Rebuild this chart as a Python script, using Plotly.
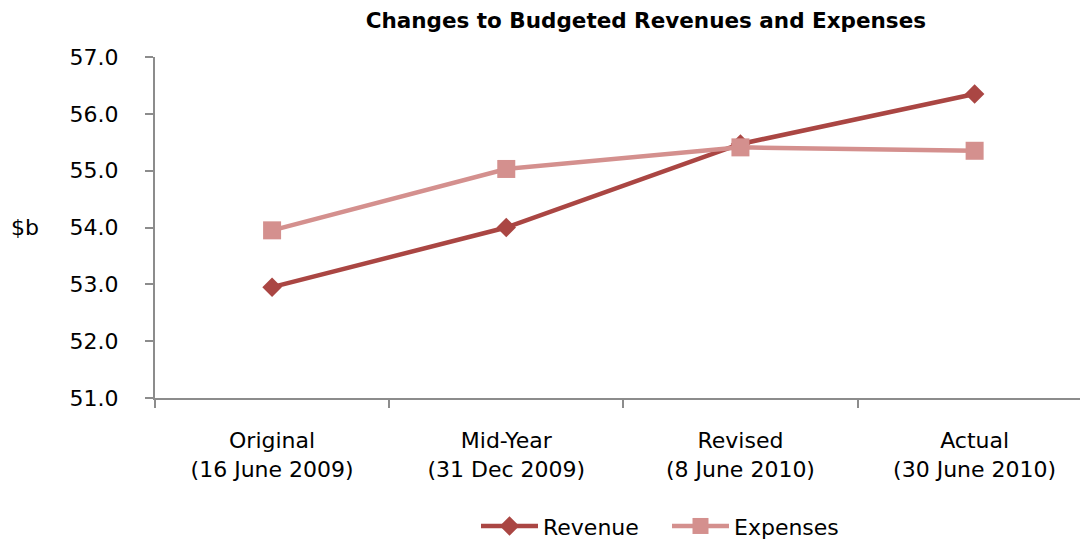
import plotly.graph_objects as go

categories = ["Original<br>(16 June 2009)", "Mid-Year<br>(31 Dec 2009)",
              "Revised<br>(8 June 2010)", "Actual<br>(30 June 2010)"]
revenue = [52.95, 54.0, 55.47, 56.35]
expenses = [53.95, 55.03, 55.41, 55.35]
y_ticks = [51, 52, 53, 54, 55, 56, 57]

FONT = "DejaVu Sans, sans-serif"
REV_COLOR = "#AA4643"
EXP_COLOR = "#D4908E"
AXIS_COLOR = "#8C8C8C"

fig = go.Figure()
fig.add_trace(go.Scatter(
    x=categories, y=revenue, name="Revenue", mode="lines+markers",
    line=dict(color=REV_COLOR, width=4.5),
    marker=dict(symbol="diamond", size=15, color=REV_COLOR),
))
fig.add_trace(go.Scatter(
    x=categories, y=expenses, name="Expenses", mode="lines+markers",
    line=dict(color=EXP_COLOR, width=4.5),
    marker=dict(symbol="square", size=18, color=EXP_COLOR),
))

fig.update_layout(
    width=1080, height=543,
    margin=dict(l=155, r=0, t=57, b=145, autoexpand=False),
    paper_bgcolor="white", plot_bgcolor="white",
    font=dict(family=FONT, size=22, color="#000000"),
    title=dict(text="<b>Changes to Budgeted Revenues and Expenses</b>",
               x=0.598, xanchor="center", xref="container",
               y=0.963, yanchor="middle", yref="container",
               font=dict(family=FONT, size=21.5, color="#000000")),
    showlegend=True,
    legend=dict(orientation="h", x=476 / 1080, xanchor="left", xref="container",
                y=0.031, yanchor="middle", yref="container",
                font=dict(family=FONT, size=22), itemwidth=57,
                entrywidth=119, entrywidthmode="pixels",
                bgcolor="rgba(0,0,0,0)"),
    annotations=[dict(text="$b", x=(25 - 155) / (1080 - 155), xref="paper",
                      xanchor="center", y=54, yref="y", yanchor="middle",
                      showarrow=False, font=dict(family=FONT, size=22))],
)

fig.update_xaxes(
    type="category", range=[-0.5, 3.45], tickson="boundaries",
    showline=True, linecolor=AXIS_COLOR, linewidth=2,
    ticks="outside", ticklen=8, tickwidth=2, tickcolor=AXIS_COLOR,
    showgrid=False, zeroline=False, ticklabelstandoff=22, automargin=False,
    tickfont=dict(family=FONT, size=22),
)
fig.update_yaxes(
    range=[51, 57], tickvals=y_ticks, tickformat=".1f",
    showline=True, linecolor=AXIS_COLOR, linewidth=2,
    ticks="outside", ticklen=8, tickwidth=2, tickcolor=AXIS_COLOR,
    showgrid=False, zeroline=False, ticklabelstandoff=22, automargin=False,
    tickfont=dict(family=FONT, size=22),
)

fig.write_html("out.html")
